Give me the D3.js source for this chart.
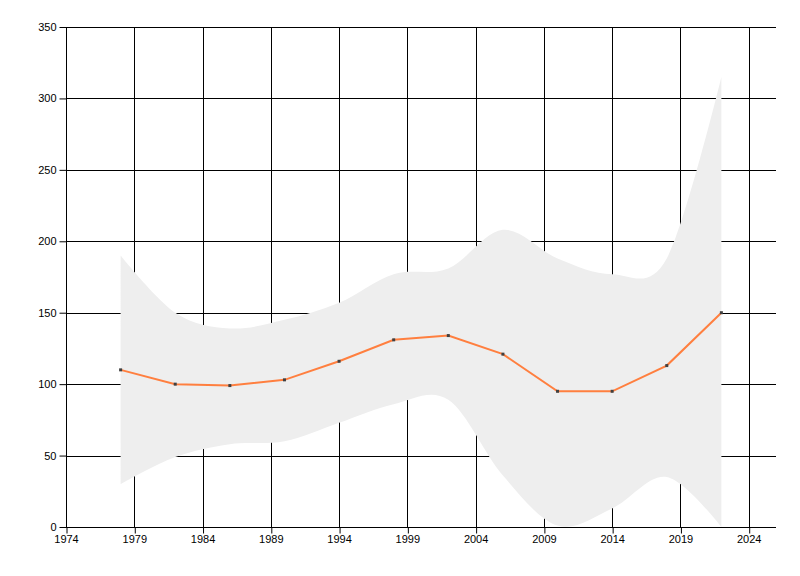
<!DOCTYPE html>
<html><head><meta charset="utf-8">
<script src="https://cdn.jsdelivr.net/npm/d3@7"></script>
<style>body{margin:0;background:#fff}svg{display:block}</style>
</head><body>
<svg id="c" width="800" height="576"></svg>
<script>
const years = [1978,1982,1986,1990,1994,1998,2002,2006,2010,2014,2018,2022];
const values = [110,100,99,103,116,131,134,121,95,95,113,150];
const upper = [190,150,139,145,157,177,181,208,188,177,188,315];
const lower = [30,49,58,60,73,86,89,36,1,13,35,0];
const xTicks = [1974,1979,1984,1989,1994,1999,2004,2009,2014,2019,2024];
const yTicks = [0,50,100,150,200,250,300,350];

const svg = d3.select('#c');
const x = d3.scaleLinear().domain([1974,2026]).range([66,776]);
const y = d3.scaleLinear().domain([0,350]).range([527,27]);
const font = '"Liberation Sans", Arial, sans-serif';

// gridlines
svg.append('g').selectAll('line').data(yTicks.slice(1)).join('line')
  .attr('x1',x(1974)).attr('x2',x(2026)).attr('y1',d=>Math.round(y(d))+0.5).attr('y2',d=>Math.round(y(d))+0.5)
  .attr('stroke','#000').attr('stroke-width',1);
svg.append('g').selectAll('line').data(xTicks.slice(1)).join('line')
  .attr('x1',d=>Math.round(x(d))+0.5).attr('x2',d=>Math.round(x(d))+0.5).attr('y1',y(350)).attr('y2',y(0))
  .attr('stroke','#000').attr('stroke-width',1);

// band
const data = years.map((yr,i)=>({yr,v:values[i],hi:upper[i],lo:lower[i]}));
const area = d3.area().x(d=>x(d.yr)).y0(d=>y(d.lo)).y1(d=>y(d.hi)).curve(d3.curveCardinal.tension(0));
svg.append('path').datum(data).attr('d',area).attr('fill','#EEEEEE');

// axes
const gx = svg.append('g').attr('transform',`translate(0,${Math.round(y(0))+0.5})`)
  .call(d3.axisBottom(x).tickValues(xTicks).tickFormat(d3.format('d')).tickSize(6).tickPadding(2));
const gy = svg.append('g').attr('transform',`translate(${Math.round(x(1974))+0.5},0)`)
  .call(d3.axisLeft(y).tickValues(yTicks).tickSize(7).tickPadding(3));
[gx,gy].forEach(g=>{
  g.select('.domain').attr('stroke','#000');
  g.selectAll('.tick line').attr('stroke','#000');
  g.selectAll('text').attr('fill','#000').style('font-family',font).style('font-size','11px');
});
gx.select('.domain').attr('d',`M${x(1974)},0H${x(2026)}`);
gy.select('.domain').attr('d',`M0,${y(350)}V${y(0)}`);
gx.selectAll('.tick line').attr('transform','translate(0.5,0)');

// line
const line = d3.line().x(d=>x(d.yr)).y(d=>y(d.v));
svg.append('path').datum(data).attr('d',line).attr('fill','none').attr('stroke','#FF7F3F').attr('stroke-width',2);
svg.append('g').selectAll('rect').data(data).join('rect')
  .attr('x',d=>x(d.yr)-1.5).attr('y',d=>y(d.v)-1.5).attr('width',3).attr('height',3).attr('fill','#404040');
</script>
</body></html>
